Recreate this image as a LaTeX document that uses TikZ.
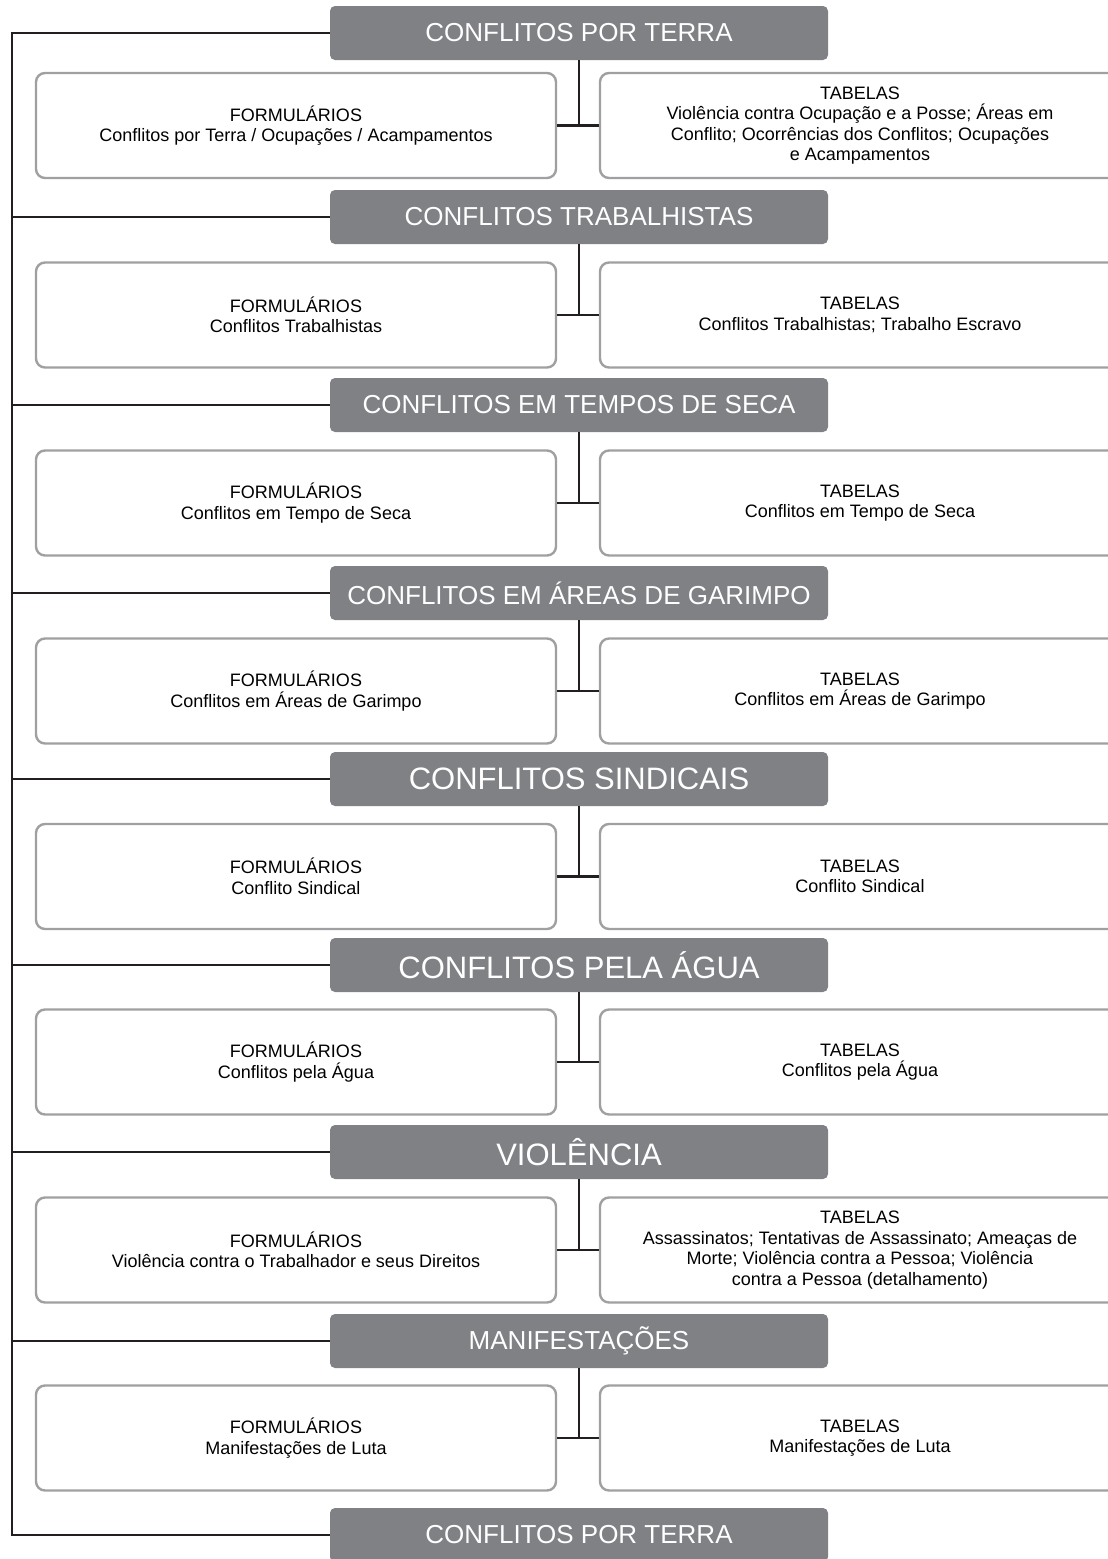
\documentclass[tikz,border=0pt]{standalone}
\usepackage{fontspec}
\setmainfont{Liberation Sans}
\definecolor{hdrgray}{RGB}{128,129,133}
\definecolor{boxgray}{RGB}{160,160,162}
\definecolor{linek}{RGB}{35,31,32}
\begin{document}
\begin{tikzpicture}[x=1pt,y=-1pt,
  hdr/.style={fill=hdrgray, rounded corners=5pt, minimum width=498pt, minimum height=54pt, inner sep=0pt, text=white},
  hsmall/.style={hdr, font=\fontsize{26}{30}\selectfont},
  hbig/.style={hdr, font=\fontsize{31}{35}\selectfont},
  cbox/.style={draw=boxgray, line width=2.4pt, rounded corners=9pt, minimum width=520pt, minimum height=105pt, inner sep=0pt, align=center, font=\fontsize{18}{20.5}\selectfont, text=black},
  conn/.style={draw=linek, line width=2.4pt}]
\useasboundingbox (0,0) rectangle (1108,1559);
\fill[white] (0,0) rectangle (1108,1559);
\coordinate (spine) at (12,0);
% headers
\node[hsmall] (h1) at (579,33) {CONFLITOS POR TERRA};
\node[hsmall] (h2) at (579,217) {CONFLITOS TRABALHISTAS};
\node[hsmall] (h3) at (579,405) {CONFLITOS EM TEMPOS DE SECA};
\node[hsmall] (h4) at (579,593) {CONFLITOS EM ÁREAS DE GARIMPO};
\node[hbig] (h5) at (579,779) {CONFLITOS SINDICAIS};
\node[hbig] (h6) at (579,965) {CONFLITOS PELA ÁGUA};
\node[hbig] (h7) at (579,1152) {VIOLÊNCIA};
\node[hsmall] (h8) at (579,1341) {MANIFESTAÇÕES};
\node[hsmall] (h9) at (579,1535) {CONFLITOS POR TERRA};
% boxes
\node[cbox] (l1) at (296,125.5) {FORMULÁRIOS\\Conflitos por Terra / Ocupações / Acampamentos};
\node[cbox] (r1) at (860,125.5) {TABELAS\\Violência contra Ocupação e a Posse; Áreas em\\Conflito; Ocorrências dos Conflitos; Ocupações\\e Acampamentos};
\node[cbox] (l2) at (296,315) {FORMULÁRIOS\\Conflitos Trabalhistas};
\node[cbox] (r2) at (860,315) {TABELAS\\Conflitos Trabalhistas; Trabalho Escravo};
\node[cbox] (l3) at (296,503) {FORMULÁRIOS\\Conflitos em Tempo de Seca};
\node[cbox] (r3) at (860,503) {TABELAS\\Conflitos em Tempo de Seca};
\node[cbox] (l4) at (296,691) {FORMULÁRIOS\\Conflitos em Áreas de Garimpo};
\node[cbox] (r4) at (860,691) {TABELAS\\Conflitos em Áreas de Garimpo};
\node[cbox] (l5) at (296,876.5) {FORMULÁRIOS\\Conflito Sindical};
\node[cbox] (r5) at (860,876.5) {TABELAS\\Conflito Sindical};
\node[cbox] (l6) at (296,1062) {FORMULÁRIOS\\Conflitos pela Água};
\node[cbox] (r6) at (860,1062) {TABELAS\\Conflitos pela Água};
\node[cbox] (l7) at (296,1250) {FORMULÁRIOS\\Violência contra o Trabalhador e seus Direitos};
\node[cbox] (r7) at (860,1250) {TABELAS\\Assassinatos; Tentativas de Assassinato; Ameaças de\\Morte; Violência contra a Pessoa; Violência\\contra a Pessoa (detalhamento)};
\node[cbox] (l8) at (296,1438) {FORMULÁRIOS\\Manifestações de Luta};
\node[cbox] (r8) at (860,1438) {TABELAS\\Manifestações de Luta};
% spine
\draw[conn] (h1.west) -- (h1.west -| spine) -- (h9.west -| spine) -- (h9.west);
\foreach \k in {2,...,8} {\draw[conn] (h\k.west) -- (h\k.west -| spine);}
% T connectors
\foreach \k in {1,...,8} {
  \draw[conn] (h\k.south) -- (h\k.south |- l\k.east);
  \draw[conn] (l\k.east) -- (r\k.west);
}
\end{tikzpicture}
\end{document}
